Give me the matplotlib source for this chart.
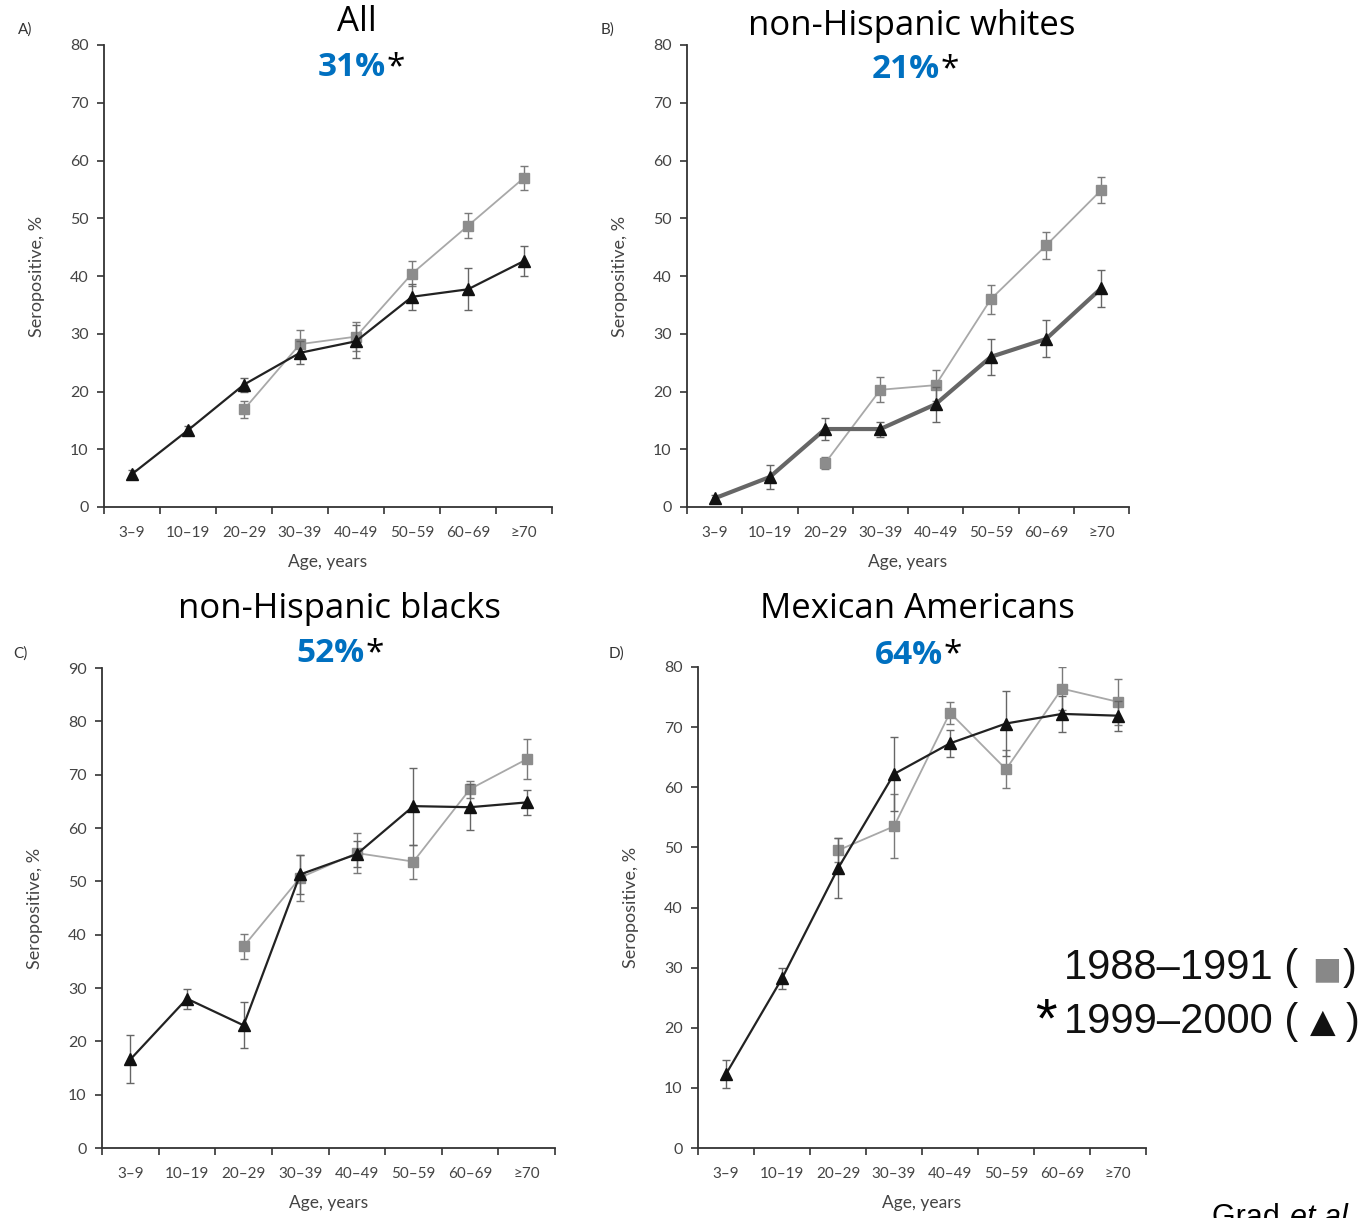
import numpy as np
import matplotlib
matplotlib.use("Agg")
import matplotlib.pyplot as plt

W, H = 1365, 1218
nan = np.nan

ages = ["3–9", "10–19", "20–29", "30–39", "40–49", "50–59", "60–69", "≥70"]

A_9900 = [5.7, 13.3, 21.2, 26.7, 28.7, 36.4, 37.7, 42.6]
A_9900_err = [0.7, 0.8, 1.2, 2.0, 2.9, 2.3, 3.6, 2.6]
A_8891 = [nan, nan, 16.9, 28.2, 29.5, 40.4, 48.7, 57.0]
A_8891_err = [nan, nan, 1.5, 2.4, 2.5, 2.2, 2.2, 2.1]

B_9900 = [1.5, 5.2, 13.5, 13.5, 17.8, 26.0, 29.1, 37.9]
B_9900_err = [0.5, 2.1, 1.9, 1.3, 3.0, 3.1, 3.2, 3.2]
B_8891 = [nan, nan, 7.6, 20.3, 21.1, 36.0, 45.3, 54.9]
B_8891_err = [nan, nan, 1.1, 2.2, 2.7, 2.5, 2.3, 2.3]

C_9900 = [16.6, 28.0, 23.0, 51.3, 55.1, 64.1, 63.9, 64.8]
C_9900_err = [4.5, 1.9, 4.3, 3.6, 2.5, 7.2, 4.3, 2.4]
C_8891 = [nan, nan, 37.8, 50.7, 55.3, 53.7, 67.3, 72.9]
C_8891_err = [nan, nan, 2.4, 4.3, 3.8, 3.2, 1.6, 3.7]

D_9900 = [12.3, 28.2, 46.5, 62.2, 67.3, 70.6, 72.2, 71.9]
D_9900_err = [2.3, 1.7, 5.0, 6.1, 2.3, 5.4, 3.0, 2.5]
D_8891 = [nan, nan, 49.5, 53.5, 72.4, 63.0, 76.4, 74.2]
D_8891_err = [nan, nan, 2.0, 5.3, 1.8, 3.2, 3.6, 3.8]

titles = ["All", "non-Hispanic whites", "non-Hispanic blacks", "Mexican Americans"]
pcts = ["31%", "21%", "52%", "64%"]
letters = ["A)", "B)", "C)", "D)"]
ymaxes = [80, 80, 90, 80]

fig = plt.figure(figsize=(W / 100, H / 100), dpi=100)

def fx(px):
    return px / W

def fy(py):
    return 1 - py / H

# axes boxes in pixels: left, right, top, bottom
boxes = [(104, 552, 45, 507), (687, 1129, 45, 507),
         (102, 555, 668, 1148), (698, 1146, 667, 1148)]

series = [(A_9900, A_9900_err, A_8891, A_8891_err),
          (B_9900, B_9900_err, B_8891, B_8891_err),
          (C_9900, C_9900_err, C_8891, C_8891_err),
          (D_9900, D_9900_err, D_8891, D_8891_err)]

tick_font = ["Lato", "DejaVu Sans"]
tc = "#444444"
x = np.arange(len(ages)) + 0.5

for i, (box, s) in enumerate(zip(boxes, series)):
    l, r, t, b = box
    ax = fig.add_axes([fx(l), fy(b), fx(r) - fx(l), fy(t) - fy(b)])
    v99, e99, v88, e88 = s
    ax.errorbar(x, v88, yerr=e88, color="#a8a8a8", lw=1.3, marker="s",
                ms=6.5, mfc="#8c8c8c", mec="#8c8c8c", ecolor="#7a7a7a",
                elinewidth=1.0, capsize=3, capthick=1.0, zorder=2)
    if i == 1:
        lc, lw = "#666666", 3.0
    else:
        lc, lw = "#222222", 1.6
    ax.errorbar(x, v99, yerr=e99, color=lc, lw=lw, marker="^",
                ms=8.5, mfc="#111111", mec="#111111", ecolor="#666666",
                elinewidth=1.0, capsize=3, capthick=1.0, zorder=3)
    ax.set_xlim(0, len(ages))
    ax.set_ylim(0, ymaxes[i])
    ax.set_yticks(np.arange(0, ymaxes[i] + 1, 10))
    ax.set_xticks(np.arange(0, len(ages) + 1))
    ax.set_xticklabels([])
    ax.set_xticks(x, minor=True)
    ax.set_xticklabels(ages, minor=True)
    ax.tick_params(axis="x", which="minor", length=0, pad=14,
                   labelsize=11, labelcolor=tc)
    ax.tick_params(axis="x", which="major", length=5, width=1.2, color="#333333")
    ax.tick_params(axis="y", length=5, width=1.2, color="#333333",
                   labelsize=11.5, labelcolor=tc, pad=6)
    for lab in ax.get_xticklabels(minor=True) + ax.get_yticklabels():
        lab.set_family(tick_font)
    for sp in ["top", "right"]:
        ax.spines[sp].set_visible(False)
    for sp in ["left", "bottom"]:
        ax.spines[sp].set_linewidth(1.3)
        ax.spines[sp].set_color("#333333")
    ax.set_xlabel("Age, years", fontsize=12.5, color=tc, family=tick_font, labelpad=10)
    ax.set_ylabel("Seropositive, %", fontsize=13, color=tc, family=tick_font, labelpad=18)
    ax.patch.set_alpha(0)

# titles
tfont = ["Open Sans", "DejaVu Sans"]
title_pos = [(357, 22, 386, 68), (912, 26, 940, 70), (339, 609, 365, 654), (917, 609, 943, 655)]
for (cx, ty, px, py), tt, pc in zip(title_pos, titles, pcts):
    fig.text(fx(cx), fy(ty), tt, fontsize=25, family=tfont,
             ha="center", va="center", color="black")
    fig.text(fx(px), fy(py), pc, fontsize=24, family=tfont,
             fontweight="bold", ha="right", va="center", color="#0070C0")
    fig.text(fx(px + 1), fy(py), "*", fontsize=24, family=tfont,
             ha="left", va="center", color="black")

# panel letters
letter_pos = [(25, 30), (608, 30), (20, 654), (617, 654)]
for (lx, ly), lt in zip(letter_pos, letters):
    fig.text(fx(lx), fy(ly), lt, fontsize=11, family=tick_font, color="#333333",
             ha="center", va="center")

# legend text
lf = ["Liberation Sans", "DejaVu Sans"]
fig.text(fx(1064), fy(968), "1988–1991 (", fontsize=30, family=lf,
         ha="left", va="center", color="#111111")
fig.text(fx(1312), fy(970), "■", fontsize=22, family=["DejaVu Sans"],
         ha="left", va="center", color="#888888")
fig.text(fx(1343), fy(968), ")", fontsize=30, family=lf,
         ha="left", va="center", color="#111111")
fig.text(fx(1046), fy(1022), "*", fontsize=40, family=lf,
         ha="center", va="center", color="black")
fig.text(fx(1064), fy(1022), "1999–2000 (", fontsize=30, family=lf,
         ha="left", va="center", color="#111111")
fig.text(fx(1310), fy(1022), "▲", fontsize=24, family=["DejaVu Sans"],
         ha="left", va="center", color="#111111")
fig.text(fx(1346), fy(1022), ")", fontsize=30, family=lf,
         ha="left", va="center", color="#111111")

# citation (partly cut off at bottom, as in the reference)
fig.text(fx(1212), fy(1203), "Grad ", fontsize=22, family=lf, ha="left", va="top")
fig.text(fx(1290), fy(1203), "et al", fontsize=22, family=lf, style="italic",
         ha="left", va="top")

fig.savefig("out.png", dpi=100)
